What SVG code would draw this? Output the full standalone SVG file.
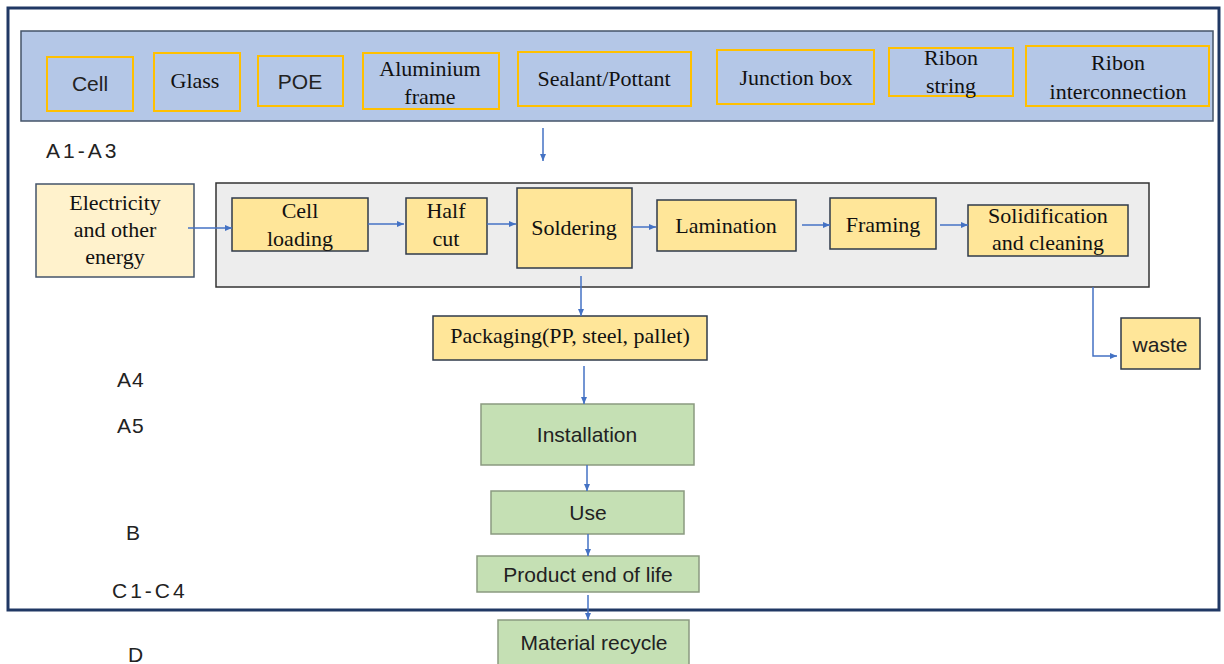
<svg xmlns="http://www.w3.org/2000/svg" width="1224" height="664" viewBox="0 0 1224 664">
<style>
.serif{font-family:"Liberation Serif","Times New Roman",serif;font-size:22px;fill:#111;text-anchor:middle}
.sans{font-family:"Liberation Sans",Arial,sans-serif;font-size:21px;fill:#222;text-anchor:middle}
.lbl{font-family:"Liberation Sans",Arial,sans-serif;font-size:21px;fill:#222;letter-spacing:1px}
.wide{letter-spacing:3px}
.mat{fill:none;stroke:#ffc000;stroke-width:2}
.proc{fill:#ffe699;stroke:#2f3a4a;stroke-width:1.5}
.green{fill:#c5e0b4;stroke:#8a9a80;stroke-width:1.5}
.conn{stroke:#4472c4;stroke-width:1.5;fill:none}
</style>
<defs>
<marker id="ah" markerWidth="8" markerHeight="8" refX="7" refY="4" orient="auto" markerUnits="userSpaceOnUse">
<path d="M0,1 L7,4 L0,7 z" fill="#4472c4"/>
</marker>
</defs>
<rect id="frame" x="8" y="8" width="1211" height="602" fill="#fff" stroke="#203864" stroke-width="3"/>
<rect id="band" x="21" y="31" width="1192" height="90" fill="#b4c7e7" stroke="#44546a" stroke-width="1.5"/>
<g id="m-cell"><rect class="mat" x="47" y="57" width="86" height="54"/><text class="sans" x="90" y="91">Cell</text></g>
<g id="m-glass"><rect class="mat" x="154" y="53" width="86" height="58"/><text class="serif" x="195" y="88">Glass</text></g>
<g id="m-poe"><rect class="mat" x="258" y="56" width="85" height="50"/><text class="sans" x="300" y="89">POE</text></g>
<g id="m-alu"><rect class="mat" x="363" y="53" width="136" height="56"/><text class="serif" x="430" y="76">Aluminium</text><text class="serif" x="430" y="104">frame</text></g>
<g id="m-seal"><rect class="mat" x="518" y="52" width="173" height="54"/><text class="serif" x="604" y="86">Sealant/Pottant</text></g>
<g id="m-jbox"><rect class="mat" x="717" y="50" width="157" height="54"/><text class="serif" x="796" y="85">Junction box</text></g>
<g id="m-rstring"><rect class="mat" x="889" y="48" width="124" height="48"/><text class="serif" x="951" y="65">Ribon</text><text class="serif" x="951" y="93">string</text></g>
<g id="m-rint"><rect class="mat" x="1026" y="46" width="183" height="60"/><text class="serif" x="1118" y="70">Ribon</text><text class="serif" x="1118" y="99">interconnection</text></g>
<text class="lbl wide" x="46" y="158">A1-A3</text>
<text class="lbl" x="117" y="387">A4</text>
<text class="lbl" x="117" y="433">A5</text>
<text class="lbl" x="126" y="540">B</text>
<text class="lbl wide" x="112" y="598">C1-C4</text>
<text class="lbl" x="128" y="662">D</text>
<rect id="process-area" x="216" y="183" width="933" height="104" fill="#ededed" stroke="#333" stroke-width="1.5"/>
<g id="n-elec"><rect x="36" y="184" width="158" height="93" fill="#fff2cc" stroke="#44546a" stroke-width="1.5"/><text class="serif" x="115" y="210">Electricity</text><text class="serif" x="115" y="237">and other</text><text class="serif" x="115" y="264">energy</text></g>
<g id="n-cellload"><rect class="proc" x="232" y="198" width="136" height="53"/><text class="serif" x="300" y="218">Cell</text><text class="serif" x="300" y="246">loading</text></g>
<g id="n-half"><rect class="proc" x="406" y="198" width="81" height="56"/><text class="serif" x="446" y="218">Half</text><text class="serif" x="446" y="246">cut</text></g>
<g id="n-solder"><rect class="proc" x="517" y="188" width="115" height="80"/><text class="serif" x="574" y="235">Soldering</text></g>
<g id="n-lam"><rect class="proc" x="657" y="200" width="139" height="51"/><text class="serif" x="726" y="233">Lamination</text></g>
<g id="n-frame"><rect class="proc" x="830" y="198" width="106" height="51"/><text class="serif" x="883" y="232">Framing</text></g>
<g id="n-solid"><rect class="proc" x="968" y="205" width="160" height="51"/><text class="serif" x="1048" y="223">Solidification</text><text class="serif" x="1048" y="250">and cleaning</text></g>
<g id="n-pack"><rect class="proc" x="433" y="316" width="274" height="44"/><text class="serif" x="570" y="343">Packaging(PP, steel, pallet)</text></g>
<g id="n-waste"><rect class="proc" x="1121" y="318" width="79" height="51"/><text class="sans" x="1160" y="352">waste</text></g>
<g id="n-install"><rect class="green" x="481" y="404" width="213" height="61"/><text class="sans" x="587" y="442">Installation</text></g>
<g id="n-use"><rect class="green" x="491" y="491" width="193" height="43"/><text class="sans" x="588" y="520">Use</text></g>
<g id="n-eol"><rect class="green" x="477" y="556" width="222" height="36"/><text class="sans" x="588" y="582">Product end of life</text></g>
<g id="n-recycle"><rect class="green" x="498" y="620" width="191" height="46"/><text class="sans" x="594" y="650">Material recycle</text></g>
<g id="connectors">
<path class="conn" marker-end="url(#ah)" d="M543,128 V161"/>
<path class="conn" marker-end="url(#ah)" d="M188,228 H232"/>
<path class="conn" marker-end="url(#ah)" d="M368,224 H404"/>
<path class="conn" marker-end="url(#ah)" d="M487,224 H516"/>
<path class="conn" marker-end="url(#ah)" d="M632,227 H656"/>
<path class="conn" marker-end="url(#ah)" d="M802,225 H830"/>
<path class="conn" marker-end="url(#ah)" d="M940,225 H968"/>
<path class="conn" marker-end="url(#ah)" d="M581,276 V316"/>
<path class="conn" marker-end="url(#ah)" d="M1093,287 V356 H1117"/>
<path class="conn" marker-end="url(#ah)" d="M584,366 V404"/>
<path class="conn" marker-end="url(#ah)" d="M587,465 V491"/>
<path class="conn" marker-end="url(#ah)" d="M588,534 V556"/>
<path class="conn" marker-end="url(#ah)" d="M588,595 V620"/>
</g>
</svg>
